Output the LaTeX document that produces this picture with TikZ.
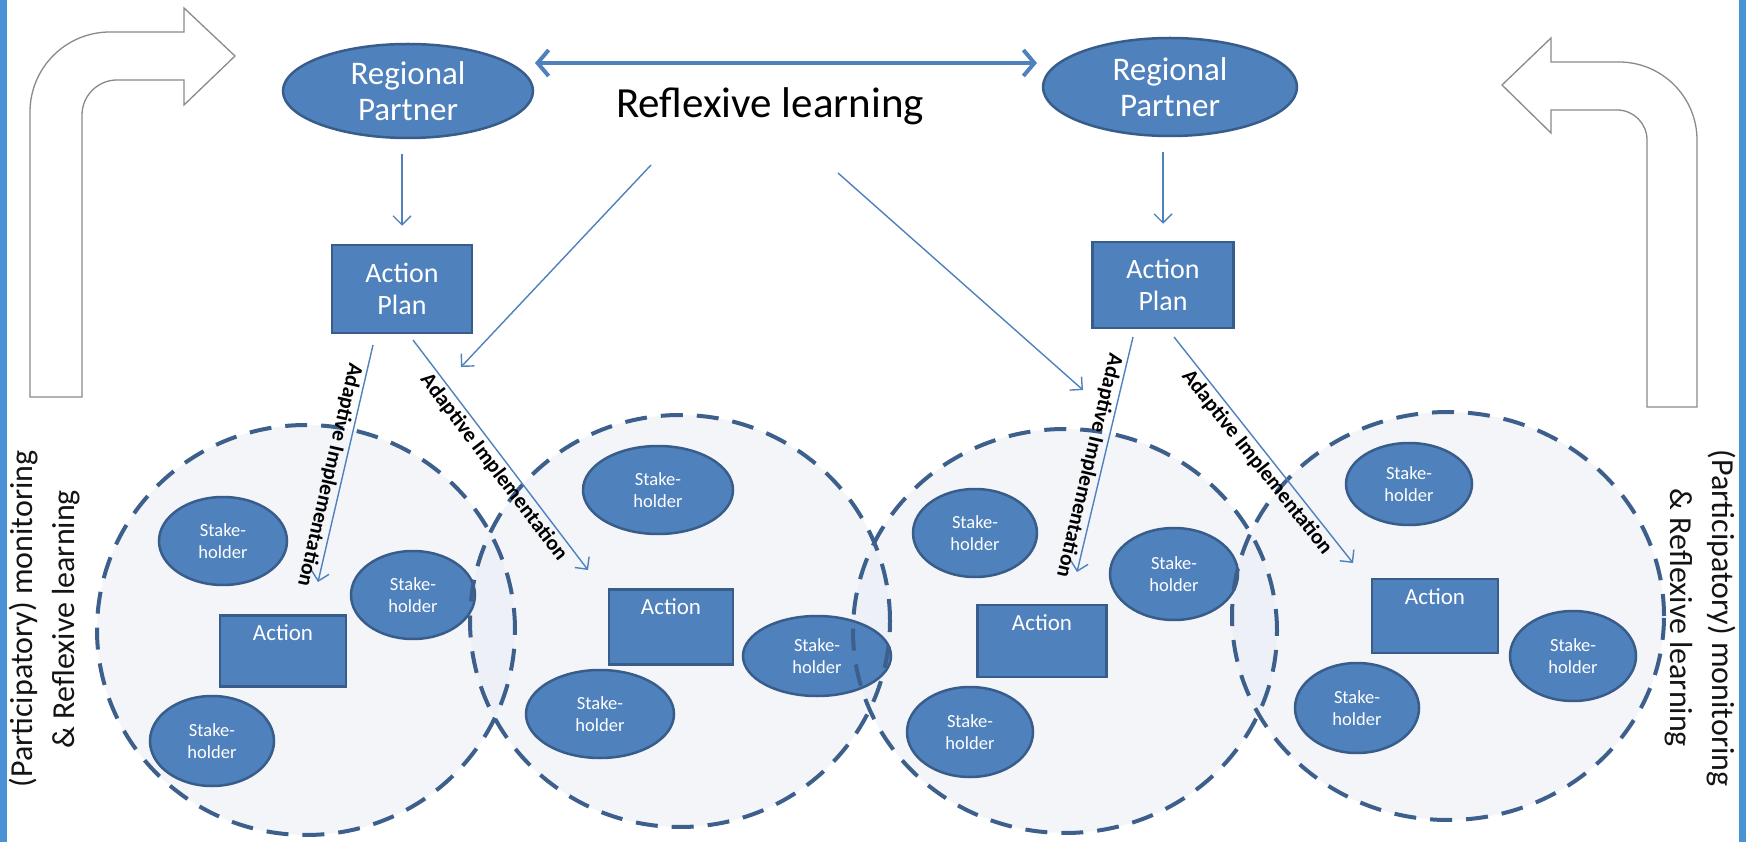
\documentclass[tikz,border=0pt]{standalone}
\usepackage{fontspec}
\setmainfont{Carlito}
\usetikzlibrary{arrows.meta,shapes.geometric,calc}
\definecolor{obl}{HTML}{4F81BD}
\definecolor{obd}{HTML}{385D8A}
\definecolor{dashc}{HTML}{3D5F8C}
\definecolor{edgeblue}{HTML}{4A92D6}
\definecolor{grayline}{HTML}{8A8A8A}
\definecolor{circfill}{RGB}{232,237,245}
\definecolor{txt}{HTML}{141414}
\tikzset{
 rpnode/.style={ellipse, draw=obd, fill=obl, line width=2.5pt, inner sep=0pt, text=white, align=center, font=\fontsize{33}{36}\selectfont},
 shnode/.style={ellipse, draw=obd, fill=obl, line width=2.5pt, inner sep=0pt, text=white, align=center, font=\fontsize{18.5}{22}\selectfont},
 apnode/.style={rectangle, draw=obd, fill=obl, line width=2.5pt, inner sep=0pt, text=white, align=center, font=\fontsize{28}{32}\selectfont},
 actnode/.style={rectangle, draw=obd, fill=obl, line width=2.5pt, inner sep=0pt,
   label={[anchor=north, text=white, font=\fontsize{23}{26}\selectfont, yshift=-7pt]north:Action}},
 conn/.style={draw=obl, line width=1.4pt, -{Straight Barb[length=9pt,width=18pt,line width=1.4pt]}},
 dbl/.style={draw=obl, line width=4pt, {Straight Barb[length=11pt,width=26pt]}-{Straight Barb[length=11pt,width=26pt]}},
 dashcirc/.style={draw=dashc, line width=4pt, dash pattern=on 22pt off 14pt},
 circfillst/.style={fill=circfill, fill opacity=0.5},
 bent/.style={draw=grayline, line width=1.3pt, fill=white},
 adlabel/.style={sloped, allow upside down, text=black, inner sep=3pt, font=\bfseries\fontsize{21.5}{24}\selectfont},
 sidetext/.style={text=txt, align=center, font=\fontsize{32}{42}\selectfont},
}
\begin{document}
\begin{tikzpicture}[x=1pt,y=-1pt]
\useasboundingbox (0,0) rectangle (1746,842);
\fill[white] (0,0) rectangle (1746,842);
\fill[edgeblue] (0,0) rectangle (7,842);
\fill[edgeblue] (1739,0) rectangle (1746,842);

% bent arrows
\draw[bent] (30,397) -- (30,112) .. controls (30,67.8) and (65.8,32) .. (110,32)
  -- (184,32) -- (184,8) -- (235,56) -- (184,105) -- (184,80) -- (117,80)
  .. controls (97.7,80) and (82,95.7) .. (82,115) -- (82,397) -- cycle;
\draw[bent] (1697,407) -- (1697,140) .. controls (1697,97) and (1662,62) .. (1619,62)
  -- (1551,62) -- (1551,38) -- (1502,85) -- (1551,133) -- (1551,110) -- (1617,110)
  .. controls (1633.6,110) and (1647,123.4) .. (1647,140) -- (1647,407) -- cycle;

% circle regions (fills)
\coordinate (c1) at (306,630);
\coordinate (c2) at (680,621);
\coordinate (c3) at (1065,631);
\coordinate (c4) at (1448,616);
\fill[circfillst] (c1) ellipse [x radius=209pt, y radius=205pt];
\fill[circfillst] (c2) ellipse [x radius=210pt, y radius=206pt];
\fill[circfillst] (c3) ellipse [x radius=212pt, y radius=202pt];
\fill[circfillst] (c4) ellipse [x radius=216pt, y radius=204pt];

% top nodes
\node[rpnode, minimum width=250pt, minimum height=94pt] (rp1) at (408,91) {Regional\\Partner};
\node[rpnode, minimum width=254pt, minimum height=98pt] (rp2) at (1170,87) {Regional\\Partner};
\node[apnode, minimum width=140pt, minimum height=88pt] (ap1) at (402,289) {Action\\Plan};
\node[apnode, minimum width=141pt, minimum height=86pt] (ap2) at (1163,285) {Action\\Plan};
\node[text=black, font=\fontsize{43}{48}\selectfont, inner sep=0pt] (refl) at (770,106) {Reflexive learning};

% side texts
\node[sidetext, rotate=90] (sideL) at (45,619) {(Participatory) monitoring\\\& Reflexive learning};
\node[sidetext, rotate=-90] (sideR) at (1700,618) {(Participatory) monitoring\\\& Reflexive learning};

% stakeholders and actions
\node[shnode, minimum width=128pt, minimum height=88pt] (sh1a) at (223,541) {Stake-\\holder};
\node[shnode, minimum width=124pt, minimum height=88pt] (sh1b) at (413,595) {Stake-\\holder};
\node[shnode, minimum width=124pt, minimum height=90pt] (sh1c) at (212,741) {Stake-\\holder};
\node[actnode, minimum width=126pt, minimum height=71pt] (act1) at (283,651) {};

\node[shnode, minimum width=150pt, minimum height=88pt] (sh2a) at (658,490) {Stake-\\holder};
\node[shnode, minimum width=148pt, minimum height=80pt] (sh2b) at (817,656) {Stake-\\holder};
\node[shnode, minimum width=148pt, minimum height=88pt] (sh2c) at (600,714) {Stake-\\holder};
\node[actnode, minimum width=124pt, minimum height=75pt] (act2) at (671,627) {};

\node[shnode, minimum width=124pt, minimum height=88pt] (sh3a) at (975,533) {Stake-\\holder};
\node[shnode, minimum width=128pt, minimum height=92pt] (sh3b) at (1174,574) {Stake-\\holder};
\node[shnode, minimum width=126pt, minimum height=90pt] (sh3c) at (970,732) {Stake-\\holder};
\node[actnode, minimum width=129pt, minimum height=72pt] (act3) at (1042,641) {};

\node[shnode, minimum width=126pt, minimum height=82pt] (sh4a) at (1409,484) {Stake-\\holder};
\node[shnode, minimum width=124pt, minimum height=90pt] (sh4b) at (1357,708) {Stake-\\holder};
\node[shnode, minimum width=126pt, minimum height=90pt] (sh4c) at (1573,656) {Stake-\\holder};
\node[actnode, minimum width=126pt, minimum height=74pt] (act4) at (1435,616) {};

% dashed outlines
\draw[dashcirc] (c1) ellipse [x radius=209pt, y radius=205pt];
\draw[dashcirc] (c2) ellipse [x radius=210pt, y radius=206pt];
\draw[dashcirc] (c3) ellipse [x radius=212pt, y radius=202pt];
\draw[dashcirc] (c4) ellipse [x radius=216pt, y radius=204pt];

% connectors
\coordinate (dl) at (535,63);
\coordinate (dr) at (1037,63);
\draw[dbl] (dl) -- (dr);
\draw[conn, shorten <=15pt, shorten >=18pt] (rp1.south -| ap1.north) -- (ap1.north);
\draw[conn, shorten <=15pt, shorten >=17pt] (rp2.south -| ap2.north) -- (ap2.north);

\coordinate (rla) at (651,165);
\coordinate (rlat) at (461,367);
\coordinate (rlb) at (838,173);
\coordinate (rlbt) at (1083,390);
\draw[conn] (rla) -- (rlat);
\draw[conn] (rlb) -- (rlbt);

\coordinate (a1s) at (373,345);
\coordinate (a1t) at (318,582);
\coordinate (a2s) at (413,340);
\coordinate (a2t) at (588,570);
\coordinate (a3s) at (1133,337);
\coordinate (a3t) at (1077,572);
\coordinate (a4s) at (1174,337);
\coordinate (a4t) at (1353,563);
\draw[conn] (a1s) -- node[adlabel, below, pos=0.56] {Adaptive Implementation} (a1t);
\draw[conn] (a2s) -- node[adlabel, below, pos=0.52] {Adaptive Implementation} (a2t);
\draw[conn] (a3s) -- node[adlabel, below, pos=0.56] {Adaptive Implementation} (a3t);
\draw[conn] (a4s) -- node[adlabel, below, pos=0.52] {Adaptive Implementation} (a4t);
\end{tikzpicture}
\end{document}
